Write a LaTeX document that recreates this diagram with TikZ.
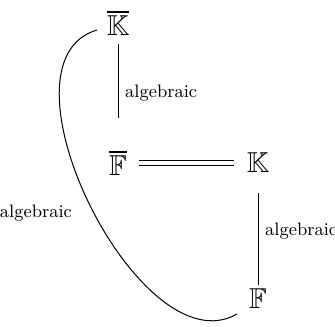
\documentclass[tikz,border=0pt]{standalone}
\usepackage{amssymb}
\begin{document}
\begin{tikzpicture}[x=0.5pt,y=-0.5pt,
  obj/.style={inner sep=2pt, font=\Large},
  lab/.style={font=\fontsize{9}{11}\selectfont},
  conn/.style={line width=0.5pt}]
\useasboundingbox (0,0) rectangle (335,326);
\node[obj] (Kb) at (118,23) {$\overline{\mathbb{K}}$};
\node[obj] (Fb) at (118,163) {$\overline{\mathbb{F}}$};
\node[obj] (K) at (258,163) {$\mathbb{K}$};
\node[obj] (F) at (258,299) {$\mathbb{F}$};
\draw[conn, shorten <=2pt, shorten >=14pt] (Kb) -- node[lab, right, pos=0.5] {algebraic} (Fb);
\draw[conn, double, double distance=1.6pt, shorten <=4pt, shorten >=4pt] (Fb) -- (K);
\draw[conn, shorten <=8pt, shorten >=0pt] (K) -- node[lab, right] {algebraic} (F);
\coordinate (cs) at (97,30);
\coordinate (ce) at (237,314);
\draw[conn] (cs) .. controls (-12,62) and (140,370) .. (ce);
\node[lab, anchor=east] (lal) at (79,213) {algebraic};
\end{tikzpicture}
\end{document}
